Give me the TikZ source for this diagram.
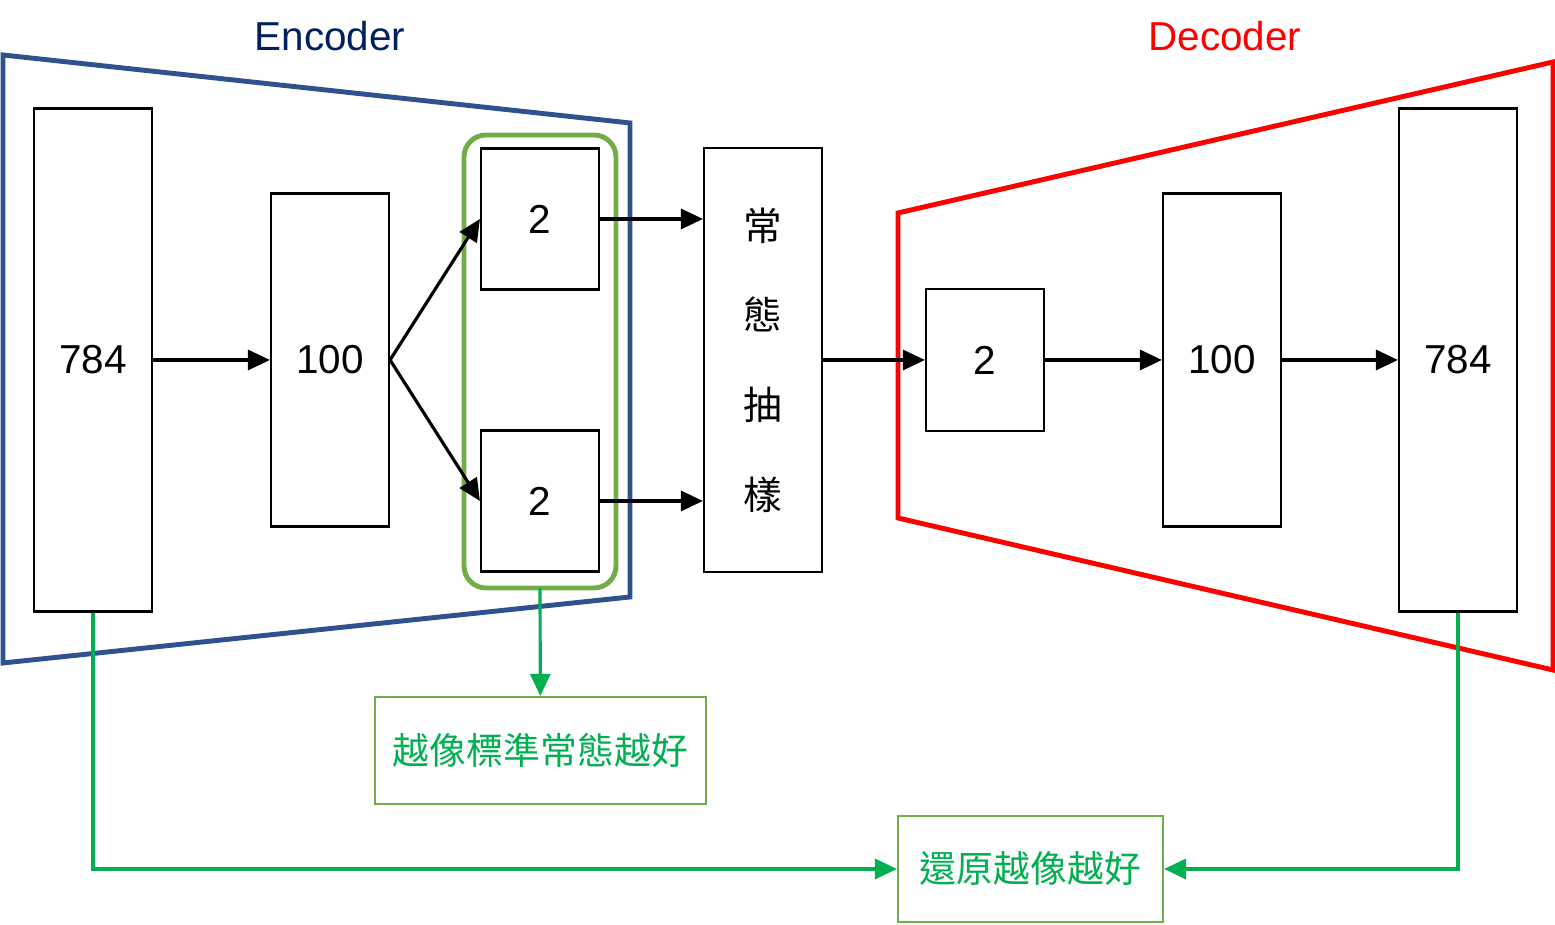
\documentclass[tikz,border=0pt]{standalone}
\usepackage{fontspec}
\setmainfont{Liberation Sans}
\newfontfamily\cjk{Noto Sans CJK TC}
\usetikzlibrary{arrows.meta,positioning}

\tikzset{
  layer/.style={draw=black,line width=0.6pt,minimum width=1.18cm,font=\fontsize{11.5}{14}\selectfont},
  link/.style={line width=0.9pt,-{Triangle[length=2.2mm,width=2mm]}},
  goal/.style={draw=cgoal,line width=0.6pt,text=ctext,inner sep=0pt,font=\cjk\fontsize{10.5}{13}\selectfont},
  hint/.style={draw=ctext,line width=0.9pt,-{Triangle[length=2.2mm,width=2mm]}}
}

\begin{document}
\begin{tikzpicture}[x=1cm,y=1cm]
%
\useasboundingbox (0,0) rectangle (15.55,9.25);
%
\definecolor{cenc}{rgb}{0.184,0.322,0.561}
\definecolor{clenc}{rgb}{0.0,0.125,0.376}
\definecolor{cdec}{rgb}{1.0,0.0,0.0}
\definecolor{cgoal}{rgb}{0.439,0.678,0.278}
\definecolor{ctext}{rgb}{0.0,0.690,0.314}
%
\draw[cenc,line width=1.4pt] (0.03,8.70) -- (6.30,8.02) -- (6.30,3.28) -- (0.03,2.62) -- cycle;
\draw[cdec,line width=1.4pt] (8.98,7.12) -- (15.53,8.63) -- (15.53,2.55) -- (8.98,4.07) -- cycle;
\node[text=clenc,font=\fontsize{11.5}{14}\selectfont] (enc) at (3.30,8.89) {Encoder};
\node[text=cdec,font=\fontsize{11.5}{14}\selectfont] (dec) at (12.25,8.89) {Decoder};
%
\node[layer,minimum height=5.03cm] (in) at (0.93,5.65) {784};
\node[layer,minimum height=3.33cm] (h1) at (3.30,5.65) {100};
\node[layer,minimum height=1.41cm] (mu) at (5.40,7.06) {2};
\node[layer,minimum height=1.41cm] (sg) at (5.40,4.24) {2};
\draw[cgoal,line width=1.4pt,rounded corners=0.22cm] (4.64,3.37) rectangle (6.16,7.90);
\coordinate (lat) at (5.40,3.37);
\node[layer,minimum height=4.24cm,font=\cjk\fontsize{11}{13}\selectfont,align=center] (smp) at (7.63,5.65) {常\\[0.44cm]態\\[0.44cm]抽\\[0.44cm]樣};
\node[layer,minimum height=1.42cm] (z) at (9.85,5.65) {2};
\node[layer,minimum height=3.33cm] (h2) at (12.22,5.65) {100};
\node[layer,minimum height=5.03cm] (out) at (14.58,5.65) {784};
%
\node[goal,minimum width=3.31cm,minimum height=1.07cm] (kl) at (5.405,1.745) {越像標準常態越好};
\node[goal,minimum width=2.65cm,minimum height=1.06cm] (rec) at (10.305,0.56) {還原越像越好};
%
\draw[link] (in) -- (h1);
\draw[link] (h1.east) -- (mu.west);
\draw[link] (h1.east) -- (sg.west);
\draw[link] (mu) -- (mu -| smp.west);
\draw[link] (sg) -- (sg -| smp.west);
\draw[link] (smp) -- (z);
\draw[link] (z) -- (h2);
\draw[link] (h2) -- (out);
%
\draw[hint] (lat) -- (kl);
\draw[hint] (in.south) |- (rec.west);
\draw[hint] (out.south) |- (rec.east);
%
\end{tikzpicture}
\end{document}
